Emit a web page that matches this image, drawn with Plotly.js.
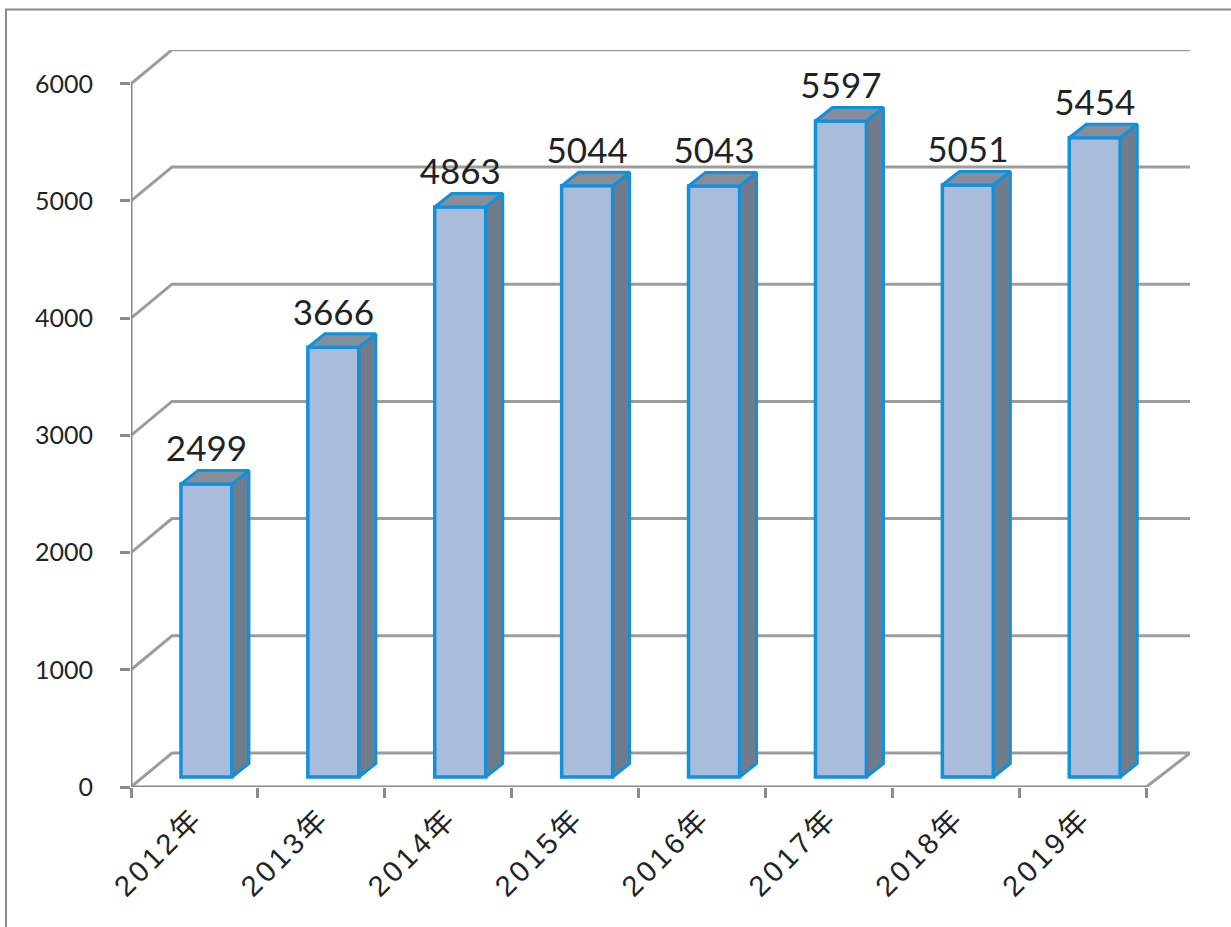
<!DOCTYPE html>
<html><head><meta charset="utf-8">
<script src="https://cdn.plot.ly/plotly-3.0.1.min.js"></script>
<style>html,body{margin:0;padding:0;background:#fff;overflow:hidden}#c{width:1231px;height:927px}
.xtick text{letter-spacing:3.5px}</style>
</head><body><div id="c"></div>
<script>
const categories = ['2012年','2013年','2014年','2015年','2016年','2017年','2018年','2019年'];
const values = [2499,3666,4863,5044,5043,5597,5051,5454];
const yTicks = [0,1000,2000,3000,4000,5000,6000];

const W=1231,H=927, L=131,R=1190,T=49.5,B=787;
const yMax = 6288, xMin=-0.5, xMax=xMin+(R-L)/126.9;
const pxX=(R-L)/(xMax-xMin), pxY=(B-T)/yMax;
const wallDX=41/pxX, wallDY=34/pxY, wallExtra=3/pxX;
const barBase=10/pxY, barShift=12/pxX, barW=51/pxX;
const sideDX=17/pxX, sideDY=13.5/pxY, labelGap=0.5/pxY;
const idx=categories.map((_,i)=>i);
const grey='#9c9c9c', blue='#1190dc';

const shapes=[];
const xEnd=categories.length-0.5;
yTicks.forEach(v=>{
  shapes.push({type:'path',layer:'below',xref:'x',yref:'y',
    path:`M ${xMin} ${v} L ${xMin+wallDX} ${v+wallDY} L ${xEnd+wallDX+wallExtra} ${v+wallDY}`,
    line:{color:grey,width:3}});
});
shapes.push({type:'line',layer:'below',xref:'x',yref:'y',x0:xEnd,y0:0,x1:xEnd+wallDX+wallExtra,y1:wallDY,line:{color:grey,width:3}});
shapes.push({type:'line',layer:'below',xref:'x',yref:'y',x0:xMin,y0:0,x1:xEnd,y1:0,line:{color:'#8a8a8a',width:3}});
shapes.push({type:'line',layer:'below',xref:'x',yref:'y',x0:xMin,y0:0,x1:xMin,y1:6000,line:{color:'#8a8a8a',width:3}});
// scanned page frame
const px=(x)=>(x-L)/(R-L), py=(y)=>(B-y)/(B-T);
shapes.push({type:'path',layer:'below',xref:'paper',yref:'paper',
  path:`M ${px(6)} ${py(927)} L ${px(6)} ${py(9)} L ${px(1231)} ${py(9)}`,line:{color:'#8c8c8c',width:2}});

const traces=[];
traces.push({type:'bar',x:idx.map(i=>i+barShift),y:values,base:barBase,width:barW,
  marker:{color:'#a9bcdc',line:{color:blue,width:3.5}},hoverinfo:'skip'});
idx.forEach(i=>{
  const xl=i+barShift-barW/2, xr=i+barShift+barW/2, y0=barBase, y1=barBase+values[i];
  traces.push({type:'scatter',mode:'lines',fill:'toself',fillcolor:'#6f7c8c',
    x:[xr,xr+sideDX,xr+sideDX,xr,xr],y:[y0,y0+sideDY,y1+sideDY,y1,y0],
    line:{color:blue,width:3},hoverinfo:'skip'});
  traces.push({type:'scatter',mode:'lines',fill:'toself',fillcolor:'#858e9b',
    x:[xl,xl+sideDX,xr+sideDX,xr,xl],y:[y1,y1+sideDY,y1+sideDY,y1,y1],
    line:{color:blue,width:3},hoverinfo:'skip'});
});
traces.push({type:'scatter',mode:'text',x:idx.map(i=>i+barShift),y:values.map(v=>v+barBase+sideDY+labelGap),
  text:values.map(String),textposition:'top center',cliponaxis:false,
  textfont:{family:'Lato, "Open Sans", sans-serif',size:35,color:'#1e2426'},hoverinfo:'skip'});

const layout={
  width:W,height:H,showlegend:false,
  margin:{l:L,r:W-R,t:T,b:H-B,pad:0},
  paper_bgcolor:'#ffffff',plot_bgcolor:'rgba(0,0,0,0)',
  xaxis:{range:[xMin,xMax],tickmode:'array',tickvals:idx,ticktext:categories,tickangle:-45,
    ticks:'',showgrid:false,zeroline:false,showline:false,fixedrange:true,automargin:false,ticklabelstandoff:7,
    tickfont:{family:'"Liberation Sans","Noto Sans CJK JP",sans-serif',size:29,color:'#1e2426'},
    minor:{tickmode:'array',tickvals:[...idx.map(i=>i-0.5),xEnd],ticks:'outside',ticklen:10,tickwidth:3,tickcolor:'#8a8a8a',showgrid:false}},
  yaxis:{range:[0,yMax],tickmode:'array',tickvals:yTicks,ticktext:yTicks.map(String),
    ticks:'outside',ticklen:10,tickwidth:3,tickcolor:'#8a8a8a',showgrid:false,zeroline:false,showline:false,fixedrange:true,automargin:false,ticklabelstandoff:22,
    tickfont:{family:'Lato, "Open Sans", sans-serif',size:25,color:'#1e2426'}},
  shapes:shapes
};
Plotly.newPlot('c',traces,layout,{staticPlot:true,displayModeBar:false});
</script></body></html>
